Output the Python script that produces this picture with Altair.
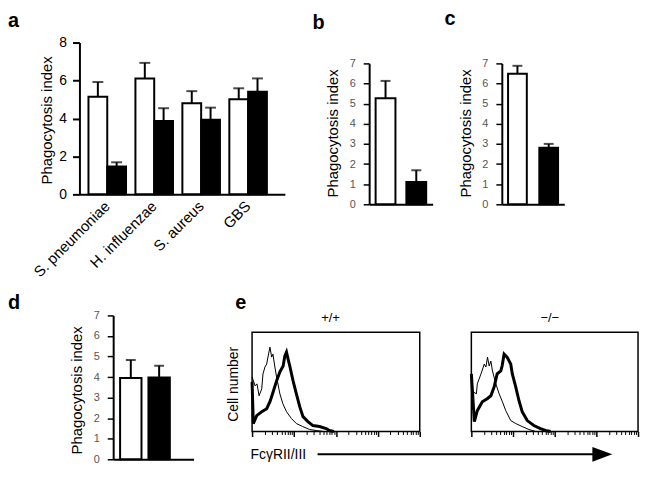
import altair as alt
import pandas as pd

FONT = "Liberation Sans, Arial, Helvetica, sans-serif"
NARROW = "Liberation Sans Narrow, Arial Narrow, Liberation Sans, sans-serif"
GENO = ["+/+", "−/−"]
FILLS = ["white", "black"]

# ---------------- data ----------------
a_organisms = ["S. pneumoniae", "H. influenzae", "S. aureus", "GBS"]
a_wt_mean = [5.14, 6.11, 4.80, 5.01]
a_wt_sem = [0.78, 0.82, 0.64, 0.58]
a_ko_mean = [1.47, 3.87, 3.93, 5.41]
a_ko_sem = [0.22, 0.67, 0.64, 0.70]
a_ticks = [0, 2, 4, 6, 8]

b_mean = [5.27, 1.11]
b_sem = [0.86, 0.58]
c_mean = [6.48, 2.81]
c_sem = [0.40, 0.19]
d_mean = [3.96, 3.98]
d_sem = [0.87, 0.57]
bcd_ticks = [0, 1, 2, 3, 4, 5, 6, 7]

# flow histograms (fluorescence intensity, % of max cell count)
e1_iso_x = [1.0, 1.18, 1.31, 1.47, 1.70, 1.82, 2.03, 2.23, 2.39, 2.67, 2.93, 3.14, 3.50, 3.84,
            4.60, 5.42, 6.62, 8.71, 11.4, 16.1, 23.6, 34.0, 50.0]
e1_iso_y = [55, 46, 48, 36, 43, 58, 65, 68, 75, 85, 75, 78, 65, 55, 38, 28, 20, 13, 8, 5, 2, 1, 0]
e1_fc_x = [1.0, 1.07, 1.29, 1.70, 2.23, 2.67, 3.19, 3.84, 4.60, 5.51, 6.04, 6.62, 7.23, 7.93,
           9.50, 11.4, 13.7, 16.4, 21.5, 28.2, 40.7, 58.6, 70.0, 90.0]
e1_fc_y = [50, 8, 16, 20, 23, 30, 40, 51, 60, 66, 76, 80, 73, 66, 51, 38, 25, 15, 10, 6, 5, 3, 1, 0]
e2_iso_x = [1.0, 1.32, 1.39, 1.70, 2.04, 2.24, 2.44, 2.68, 2.94, 3.21, 3.87, 4.64, 5.56, 6.70,
            8.81, 11.6, 16.6, 24.0, 35.0]
e2_iso_y = [41, 38, 48, 58, 68, 65, 75, 66, 71, 61, 48, 38, 30, 21, 11, 8, 5, 2, 0]
e2_fc_x = [1.0, 1.18, 1.39, 1.83, 2.40, 2.94, 3.53, 4.16, 5.09, 5.47, 6.11, 7.20, 8.81, 9.62,
           11.6, 13.9, 16.6, 21.9, 31.6, 45.6, 60.0, 80.0]
e2_fc_y = [58, 10, 21, 30, 33, 36, 45, 58, 61, 66, 78, 75, 68, 58, 45, 31, 20, 11, 6, 3, 1, 0]
e_major = [1, 10, 100, 1000, 10000]
e_minor = [k * 10 ** p for p in range(4) for k in range(2, 10)]
e_frame = {"x0": [1], "x1": [10000], "y0": [0], "y1": [100]}

# ---------------- layout (page pixels) ----------------
W, H = 640, 465
M = 8


def px(v):
    return v - M


color = alt.Color("genotype:N", scale=alt.Scale(domain=GENO, range=FILLS), legend=None)
xoff = alt.XOffset("genotype:N", sort=GENO,
                   scale=alt.Scale(domain=GENO, paddingInner=0, paddingOuter=0))


def yaxis(ticks, left, title_x, title_y, big):
    return alt.Axis(values=ticks, orient="left", offset=-px(left), title="Phagocytosis index",
                    grid=False, domainColor="black", domainWidth=2, tickColor="black",
                    tickWidth=2 if big else 1.5, tickSize=7 if big else 6,
                    labelPadding=6 if big else 8, labelFont=FONT if big else NARROW,
                    labelFontSize=14 if big else 11,
                    labelColor="black" if big else "#555555",
                    titleFont=FONT, titleFontSize=15, titleFontWeight="normal",
                    titleColor="black", titleX=title_x, titleY=px(title_y),
                    titleBaseline="middle", titleAngle=270)


def bar_layers(df, x, ys, ya, cap):
    base = alt.Chart(df).encode(x=x)
    if "organism" in df.columns:
        base = base.encode(xOffset=xoff)
    return alt.layer(
        base.mark_bar(stroke="black", strokeWidth=2).encode(
            y=alt.Y("mean:Q", scale=ys, axis=ya), color=color),
        base.mark_rule(color="black", strokeWidth=2).encode(
            y=alt.Y("mean:Q", scale=ys, axis=ya), y2="upper:Q"),
        base.mark_tick(color="black", size=cap, thickness=2).encode(
            y=alt.Y("upper:Q", scale=ys, axis=ya)),
    )


# ---------------- panel a ----------------
df_a = pd.DataFrame({
    "organism": a_organisms + a_organisms,
    "genotype": [GENO[0]] * 4 + [GENO[1]] * 4,
    "mean": a_wt_mean + a_ko_mean,
    "sem": a_wt_sem + a_ko_sem,
})
df_a["upper"] = df_a["mean"] + df_a["sem"]
a_x = alt.X("organism:N", sort=a_organisms,
            scale=alt.Scale(domain=a_organisms, range=[px(80), px(287)], paddingInner=0.2,
                            paddingOuter=0.287, align=0.335),
            axis=alt.Axis(orient="bottom", offset=px(194) - H, title=None, ticks=False,
                          labelAngle=315, labelAlign="right", labelBaseline="middle",
                          labelPadding=9, labelFont=FONT, labelFontSize=15,
                          labelColor="black", domainColor="black", domainWidth=2))
a_ys = alt.Scale(domain=[0, 8], range=[px(194), px(41)], nice=False)
panel_a = bar_layers(df_a, a_x, a_ys, yaxis(a_ticks, 80, -33.5, 119, True), 11)


# ---------------- panels b, c, d ----------------
def small_panel(means, sems, x0, x1, pi, po, al, ybot, ytop, title_y):
    df = pd.DataFrame({"genotype": GENO, "mean": means, "sem": sems})
    df["upper"] = df["mean"] + df["sem"]
    x = alt.X("genotype:N", sort=GENO,
              scale=alt.Scale(domain=GENO, range=[px(x0), px(x1)], paddingInner=pi,
                              paddingOuter=po, align=al),
              axis=alt.Axis(orient="bottom", offset=px(ybot) - H, title=None, labels=False,
                            ticks=False, domainColor="black", domainWidth=2))
    ys = alt.Scale(domain=[0, 7], range=[px(ybot), px(ytop)], nice=False)
    return bar_layers(df, x, ys, yaxis(bcd_ticks, x0, -37, title_y, False), 10)


panel_b = small_panel(b_mean, b_sem, 372, 436, 0.355, 0.21, 0.5, 204, 62, 132)
panel_c = small_panel(c_mean, c_sem, 505.7, 568.7, 0.4, 0.2, 0.5, 204, 62, 132)
panel_d = small_panel(d_mean, d_sem, 114, 195, 0.245, 0.54, 0.226, 461, 316, 391)


# ---------------- panel e ----------------
def histo_panel(iso_x, iso_y, fc_x, fc_y, x0, x1, first):
    xs = alt.Scale(type="log", domain=[1, 10000], nice=False, range=[px(x0), px(x1)])
    ys = alt.Scale(domain=[0, 100], nice=False, range=[px(433), px(333)])
    major_kw = dict(values=e_major, labels=False, domain=False, grid=False, tickSize=5,
                    tickWidth=1.5, tickColor="black", orient="bottom", offset=px(433) - H)
    if first:
        major = alt.Axis(title="FcγRII/III", titleFont=FONT, titleFontSize=14,
                         titleFontWeight="normal", titleColor="black", titleAnchor="start",
                         titleAlign="left", titleX=px(252), titleY=23,
                         titleBaseline="middle", titleAngle=0, **major_kw)
        ya = alt.Axis(orient="left", offset=-px(x0), title="Cell number", domain=False,
                      ticks=False, labels=False, grid=False, titleFont=FONT, titleFontSize=14,
                      titleFontWeight="normal", titleColor="black", titleX=-19,
                      titleY=px(385), titleBaseline="middle", titleAngle=270)
    else:
        major = alt.Axis(title=None, **major_kw)
        ya = None
    minor = alt.Axis(values=e_minor, labels=False, domain=False, grid=False, tickSize=3,
                     tickWidth=1, tickColor="black", orient="bottom", offset=px(433) - H,
                     title=None)
    frame = alt.Chart(pd.DataFrame(e_frame)).mark_rect(
        fill=None, stroke="black", strokeWidth=1.5).encode(
        x=alt.X("x0:Q", scale=xs, axis=None), x2="x1:Q",
        y=alt.Y("y0:Q", scale=ys, axis=ya), y2="y1:Q")
    iso = alt.Chart(pd.DataFrame({"intensity": iso_x, "count": iso_y})).mark_line(
        color="black", strokeWidth=1).encode(
        x=alt.X("intensity:Q", scale=xs, axis=major),
        y=alt.Y("count:Q", scale=ys, axis=ya))
    fc = alt.Chart(pd.DataFrame({"intensity": fc_x, "count": fc_y})).mark_line(
        color="black", strokeWidth=3).encode(
        x=alt.X("intensity:Q", scale=xs, axis=minor),
        y=alt.Y("count:Q", scale=ys, axis=ya))
    return alt.layer(iso, fc, frame).resolve_axis(x="independent")


panel_e1 = histo_panel(e1_iso_x, e1_iso_y, e1_fc_x, e1_fc_y, 254, 423, True)
panel_e2 = histo_panel(e2_iso_x, e2_iso_y, e2_fc_x, e2_fc_y, 475, 643, False)

# ---------------- annotations ----------------
one = pd.DataFrame({"n": [0]})


def label(text, x, y, size, bold, align="left"):
    return alt.Chart(one).mark_text(
        text=text, font=FONT, fontSize=size, fontWeight="bold" if bold else "normal",
        color="black", align=align, baseline="alphabetic").encode(
        x=alt.value(px(x)), y=alt.value(px(y)))


labels = [
    label("a", 8, 25, 20, True),
    label("b", 315, 27, 20, True),
    label("c", 448, 23, 20, True),
    label("d", 8, 310, 20, True),
    label("e", 237, 310, 20, True),
    label("+/+", 333, 323, 13, False, "center"),
    label("−/−", 554, 323, 13, False, "center"),
]
arrow_line = alt.Chart(one).mark_rule(color="black", strokeWidth=2).encode(
    x=alt.value(px(320)), x2=alt.value(px(600)), y=alt.value(px(456)))
arrow_head = alt.Chart(one).mark_point(
    shape="M-1,-0.75L1,0L-1,0.75Z", filled=True, color="black", opacity=1, size=400).encode(
    x=alt.value(px(607)), y=alt.value(px(456)))

chart = alt.layer(
    panel_a, panel_b, panel_c, panel_d, panel_e1, panel_e2, arrow_line, arrow_head, *labels
).resolve_scale(x="independent", y="independent").properties(
    width=W, height=H, padding=0, background="white",
    autosize=alt.AutoSizeParams(type="none"),
).configure_view(stroke=None)

chart.save("out.html", embed_options={"renderer": "svg", "actions": False})
